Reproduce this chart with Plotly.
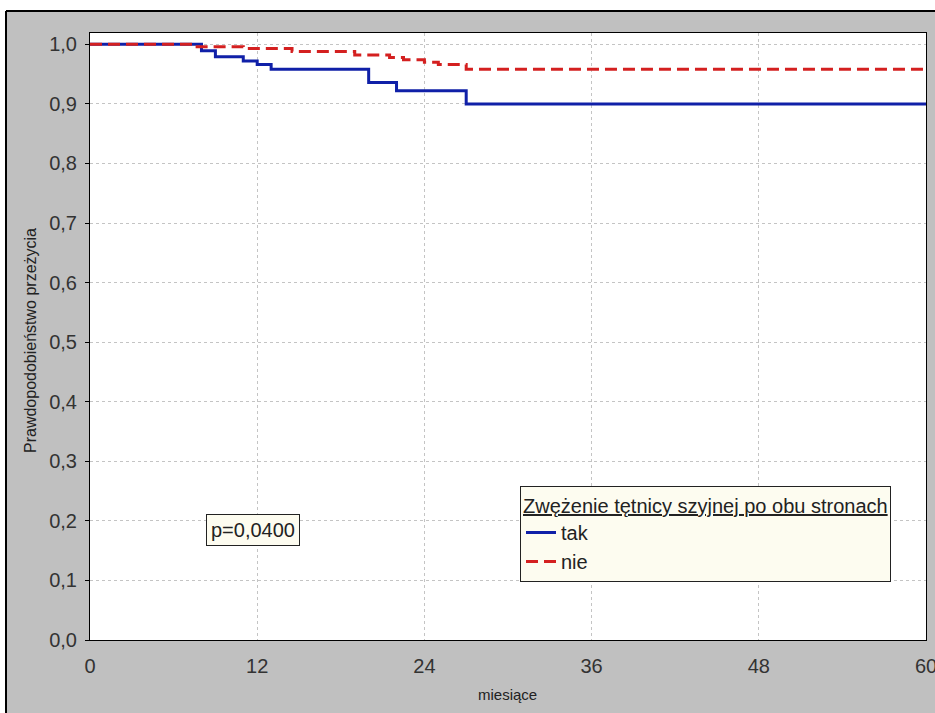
import plotly.graph_objects as go

# Data (Kaplan-Meier step curves)
tak_t = [0, 8, 9, 11, 12, 13, 20, 22, 27, 60]
tak_s = [1.0, 0.989, 0.979, 0.972, 0.966, 0.958, 0.936, 0.922, 0.900, 0.900]
nie_t = [0, 7.5, 11, 14.5, 19, 21.5, 22.5, 24, 25, 27, 60]
nie_s = [1.0, 0.996, 0.993, 0.988, 0.982, 0.978, 0.974, 0.970, 0.966, 0.958, 0.958]
x_ticks = [0, 12, 24, 36, 48, 60]
y_ticks = [0.0, 0.1, 0.2, 0.3, 0.4, 0.5, 0.6, 0.7, 0.8, 0.9, 1.0]

fig = go.Figure()
fig.add_trace(go.Scatter(x=tak_t, y=tak_s, mode="lines", name="tak",
                         line=dict(color="#1020a8", width=3, shape="hv")))
fig.add_trace(go.Scatter(x=nie_t, y=nie_s, mode="lines", name="nie",
                         line=dict(color="#d42020", width=3, shape="hv", dash="12px,6px")))

L, R, T, B = 90, 9, 33, 73
W, H = 935, 713
pw, ph = W - L - R, H - T - B

def px(x):
    return (x - L) / pw

def py(y):
    return 1 - (y - T) / ph

FONT = "Liberation Sans, Arial, sans-serif"

fig.update_layout(
    width=W, height=H,
    margin=dict(l=L, r=R, t=T, b=B, autoexpand=False),
    paper_bgcolor="#c0c0c0",
    plot_bgcolor="white",
    separators=", ",
    font=dict(family=FONT, color="#222"),
    showlegend=True,
    legend=dict(
        x=px(520), y=py(486), xanchor="left", yanchor="top",
        bgcolor="#fdfcf0", bordercolor="#222", borderwidth=1,
        font=dict(size=20, color="#222"),
        title=dict(text="<u>Zwężenie tętnicy szyjnej po obu stronach</u>",
                   font=dict(size=20, color="#222")),
        tracegroupgap=0, itemwidth=30,
    ),
    xaxis=dict(
        range=[0, 60], tickvals=x_ticks, ticktext=[str(v) for v in x_ticks],
        showgrid=True, gridcolor="#c4c4c4", griddash="dot", gridwidth=1,
        showline=True, linecolor="black", linewidth=1, mirror=True,
        ticks="", ticklabelstandoff=8, ticklabeloverflow="allow", automargin=False,
        tickfont=dict(family=FONT, size=20, color="#333"),
        zeroline=False,
    ),
    yaxis=dict(
        range=[0, 1.019], tickvals=y_ticks, tickformat=".1f",
        showgrid=True, gridcolor="#c4c4c4", griddash="dot", gridwidth=1,
        showline=True, linecolor="black", linewidth=1, mirror=True,
        ticks="outside", ticklen=4, tickcolor="black", ticklabelstandoff=4, automargin=False,
        tickfont=dict(family=FONT, size=20, color="#333"),
        zeroline=False,
    ),
    shapes=[
        # white strips outside the framed panel
        dict(type="rect", xref="paper", yref="paper", x0=px(-5), x1=px(W + 5), y0=py(10), y1=py(-5),
             fillcolor="white", line=dict(width=0), layer="below"),
        dict(type="rect", xref="paper", yref="paper", x0=px(-5), x1=px(6), y0=py(H + 5), y1=py(-5),
             fillcolor="white", line=dict(width=0), layer="below"),
        dict(type="line", xref="paper", yref="paper", x0=px(6), x1=px(W + 5), y0=py(11), y1=py(11),
             line=dict(color="black", width=2)),
        dict(type="line", xref="paper", yref="paper", x0=px(6), x1=px(6), y0=py(11), y1=py(H + 5),
             line=dict(color="black", width=2)),
    ],
    annotations=[
        dict(text="p=0,0400", xref="paper", yref="paper", x=px(253), y=py(530),
             xanchor="center", yanchor="middle",
             showarrow=False, font=dict(size=20, color="#222"),
             bgcolor="#fdfcf0", bordercolor="#222", borderwidth=1, borderpad=4),
        dict(text="Prawdopodobieństwo przeżycia", xref="paper", yref="paper",
             x=px(30), y=py(341), xanchor="center", yanchor="middle",
             textangle=-90, showarrow=False,
             font=dict(family=FONT, size=16, color="#222")),
        dict(text="miesiące", xref="paper", yref="paper", x=px(507), y=py(694),
             xanchor="center", yanchor="middle", showarrow=False,
             font=dict(family=FONT, size=15, color="#222")),
    ],
)

fig.write_html("out.html")
